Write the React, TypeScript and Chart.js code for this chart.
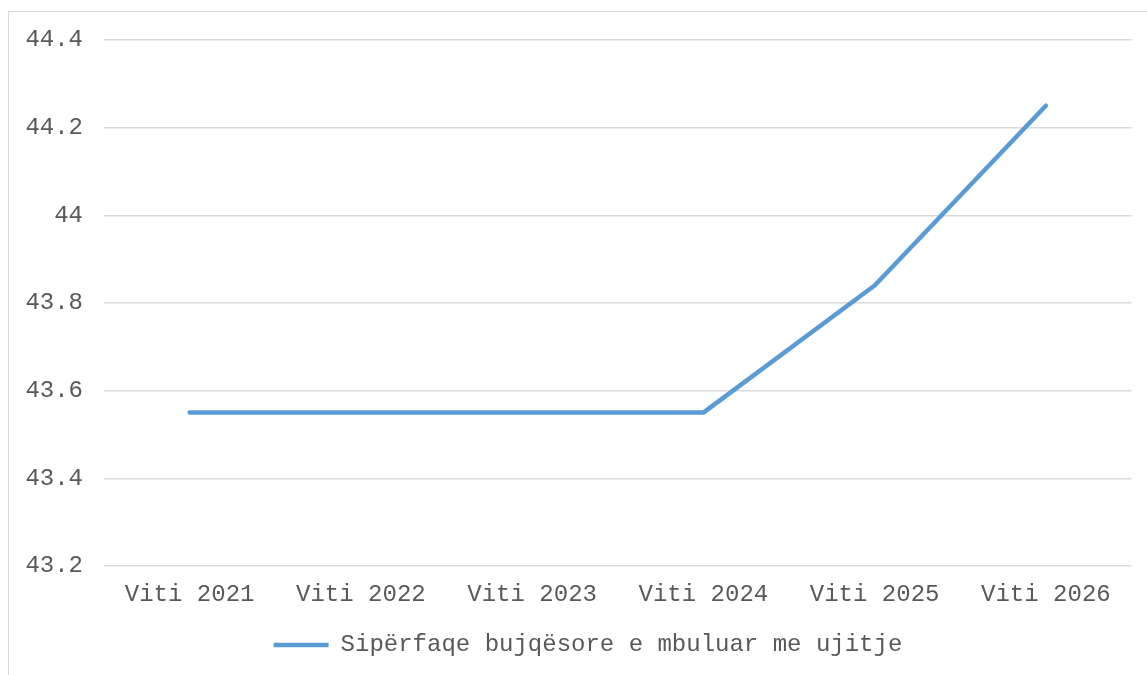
import React, { useEffect, useRef } from "react";
import { Chart, registerables } from "chart.js";

Chart.register(...registerables);

const categories: string[] = ["Viti 2021", "Viti 2022", "Viti 2023", "Viti 2024", "Viti 2025", "Viti 2026"];
const seriesLabel = "Sipërfaqe bujqësore e mbuluar me ujitje";
const seriesValues: number[] = [43.55, 43.55, 43.55, 43.55, 43.84, 44.25];
const yMin = 43.2;
const yMax = 44.4;
const yStep = 0.2;

const FONT = '"Liberation Mono", "Courier New", monospace';
const TEXT = "#595959";

const legendShift = {
  id: "legendShift",
  afterLayout(chart: any) {
    const lg = chart.legend;
    if (lg) {
      lg.left += 9.5;
      lg.right += 9.5;
    }
  },
};

export default function App() {
  const ref = useRef<HTMLCanvasElement | null>(null);

  useEffect(() => {
    if (!ref.current) return;
    const chart = new Chart(ref.current, {
      type: "line",
      data: {
        labels: categories,
        datasets: [
          {
            label: seriesLabel,
            data: seriesValues,
            borderColor: "#5B9BD5",
            backgroundColor: "#5B9BD5",
            borderWidth: 4.5,
            borderCapStyle: "round",
            borderJoinStyle: "round",
            pointRadius: 0,
            pointHoverRadius: 0,
            pointStyle: "line",
            tension: 0,
            fill: false,
          },
        ],
      },
      plugins: [legendShift],
      options: {
        responsive: false,
        animation: false,
        layout: { padding: { top: 28, left: 16.4, right: 15.5, bottom: 8 } },
        plugins: {
          tooltip: { enabled: false },
          legend: {
            position: "bottom",
            labels: {
              usePointStyle: true,
              pointStyleWidth: 55,
              color: TEXT,
              font: { family: FONT, size: 24 },
              padding: 10,
            },
          },
        },
        scales: {
          x: {
            type: "category",
            offset: true,
            grid: { display: false, drawTicks: false },
            border: { display: false },
            ticks: {
              color: TEXT,
              font: { family: FONT, size: 24 },
              padding: 14,
              maxRotation: 0,
              autoSkip: false,
            },
            afterFit: (s: any) => {
              s.height = 57;
            },
          },
          y: {
            min: yMin,
            max: yMax,
            grid: { color: "#d9d9d9", lineWidth: 1.5, drawTicks: false },
            border: { display: false },
            ticks: {
              stepSize: yStep,
              color: TEXT,
              font: { family: FONT, size: 24 },
              padding: 21,
              callback: (v: any) => String(Number(Number(v).toFixed(1))),
            },
            afterFit: (s: any) => {
              s.width = 78.6;
              s.paddingTop = 0;
              s.paddingBottom = 0;
            },
          },
        },
      },
    });
    return () => chart.destroy();
  }, []);

  return (
    <div
      style={{
        position: "fixed",
        left: 8,
        top: 11,
        right: 0,
        bottom: 0,
        borderTop: "1px solid #d9d9d9",
        borderLeft: "1px solid #d9d9d9",
        background: "#fff",
      }}
    >
      <canvas ref={ref} width={1138} height={663} style={{ display: "block" }} />
    </div>
  );
}
